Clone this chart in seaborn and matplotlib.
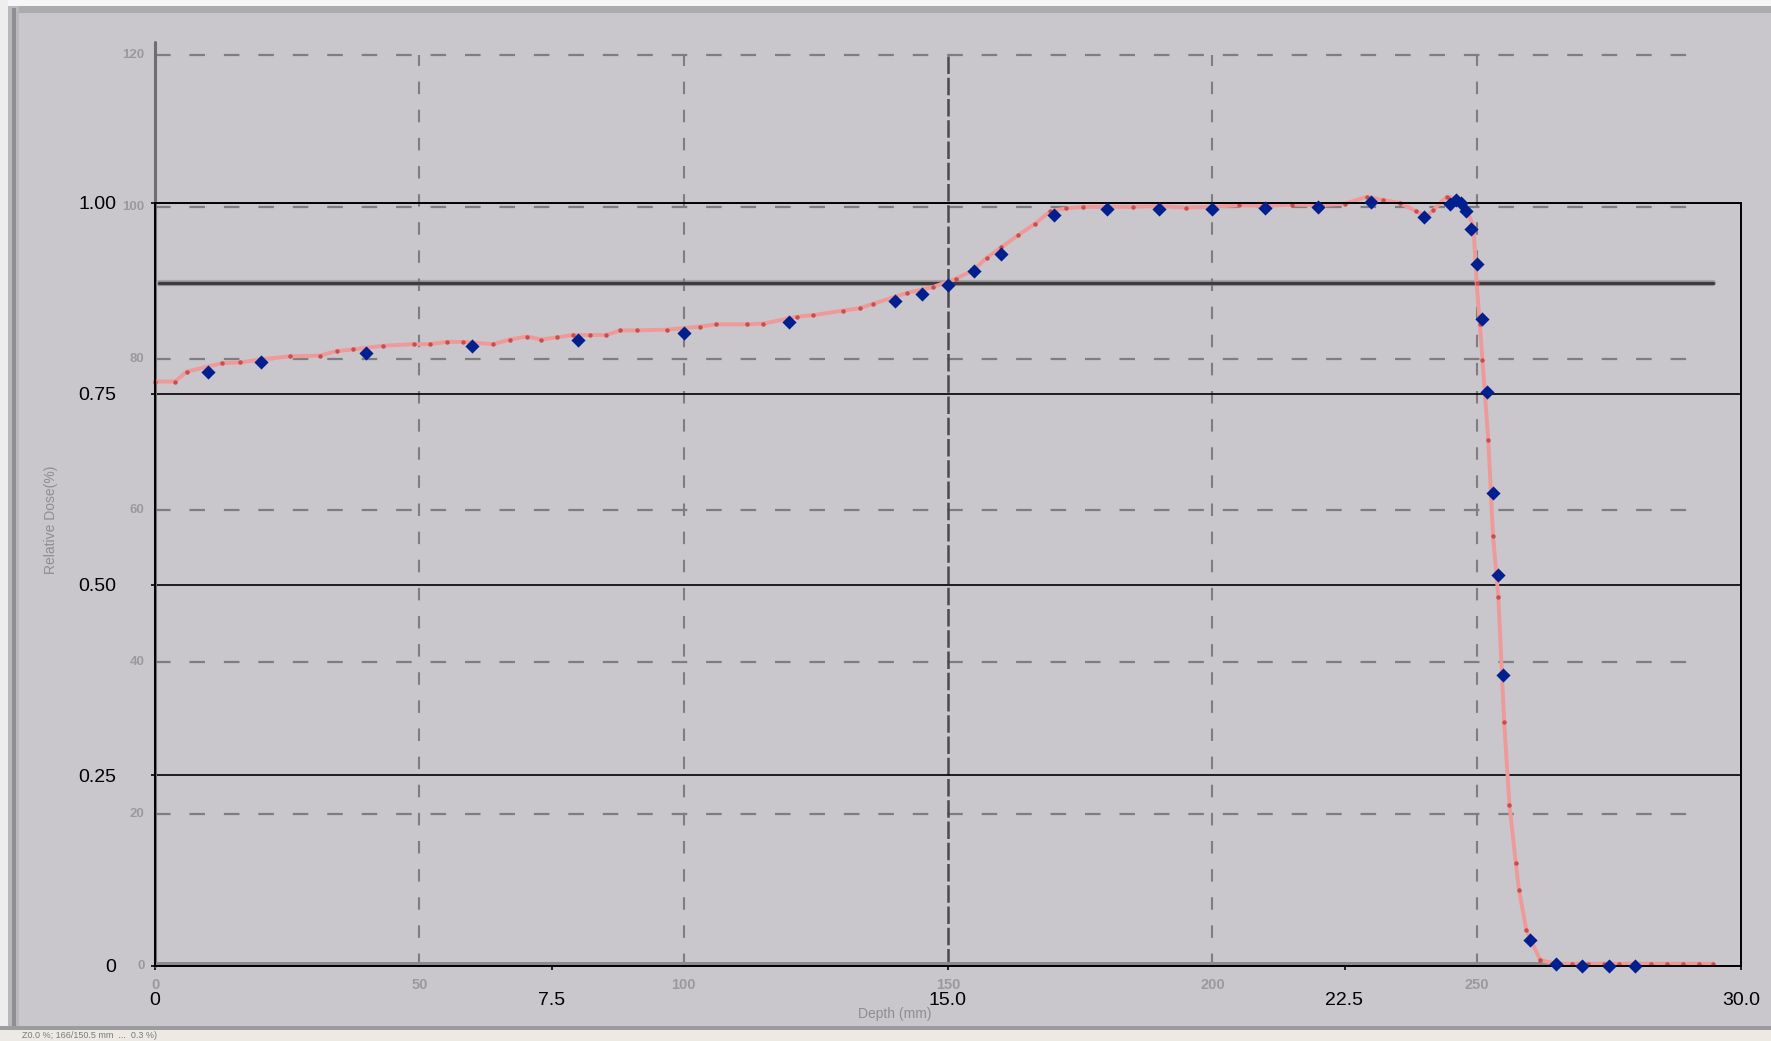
import numpy as np
import pandas as pd
import seaborn as sns
import matplotlib.pyplot as plt
from matplotlib.patches import Rectangle

# -----------------------------
# Data (depth in cm, relative dose)
# -----------------------------

# measured points (blue diamonds)
point_depth = [1, 2, 4, 6, 8, 10, 12, 14, 14.5, 15, 15.5, 16, 17, 18, 19, 20, 21, 22, 23,
               24, 24.5, 24.6, 24.7, 24.8, 24.9, 25.0, 25.1, 25.2, 25.3, 25.4, 25.5,
               26, 26.5, 27, 27.5, 28]
point_dose = [0.779, 0.791, 0.804, 0.813, 0.821, 0.830, 0.844, 0.871, 0.881, 0.893, 0.911,
              0.933, 0.984, 0.992, 0.992, 0.992, 0.994, 0.995, 1.001, 0.982, 0.999, 1.004,
              1.000, 0.990, 0.966, 0.920, 0.848, 0.752, 0.620, 0.512, 0.381,
              0.034, 0.002, 0.0, 0.0, 0.0]

# scanned profile from the planning software (red curve)
scan_depth = [0.0, 0.38, 0.60, 1.26, 1.61, 1.99, 2.55, 3.12, 3.44, 3.75, 4.32, 4.89, 5.20,
              5.52, 5.83, 6.40, 6.71, 7.03, 7.31, 7.60, 7.91, 8.23, 8.54, 8.80, 9.11, 9.68,
              10.31, 10.62, 11.19, 11.51, 12.14, 12.45, 13.02, 13.33, 13.59, 14.22, 14.72,
              15.16, 15.48, 15.73, 16.01, 16.33, 16.65, 16.93, 17.24, 17.56, 18.0, 18.5,
              19.0, 19.5, 20.0, 20.5, 21.0, 21.5, 22.0, 22.5, 22.92, 23.23, 23.55, 23.86,
              24.05, 24.18, 24.43, 24.62, 24.81, 24.94, 25.0, 25.06, 25.11, 25.22, 25.31,
              25.41, 25.52, 25.62, 25.74, 25.80, 25.94, 26.20, 26.5, 26.8, 27.1, 27.4,
              27.7, 28.0, 28.3, 28.6, 28.9, 29.2, 29.47]
scan_dose = [0.766, 0.766, 0.779, 0.790, 0.791, 0.795, 0.799, 0.800, 0.806, 0.808, 0.813,
             0.815, 0.815, 0.818, 0.818, 0.815, 0.821, 0.825, 0.821, 0.824, 0.827, 0.827,
             0.827, 0.833, 0.833, 0.834, 0.838, 0.841, 0.841, 0.842, 0.851, 0.853, 0.859,
             0.862, 0.868, 0.882, 0.890, 0.901, 0.912, 0.928, 0.942, 0.958, 0.973, 0.989,
             0.993, 0.995, 0.995, 0.995, 0.996, 0.994, 0.995, 0.997, 0.996, 0.998, 0.997,
             0.999, 1.008, 1.004, 1.000, 0.989, 0.982, 0.991, 1.008, 1.006, 0.991, 0.969,
             0.895, 0.842, 0.794, 0.689, 0.563, 0.484, 0.320, 0.211, 0.135, 0.100, 0.047,
             0.008, 0.003, 0.003, 0.003, 0.003, 0.003, 0.003, 0.003, 0.003, 0.003, 0.003,
             0.003]

x_ticks = [0, 7.5, 15.0, 22.5, 30.0]
x_tick_labels = ["0", "7.5", "15.0", "22.5", "30.0"]
y_ticks = [0, 0.25, 0.50, 0.75, 1.00]
y_tick_labels = ["0", "0.25", "0.50", "0.75", "1.00"]

# the screenshot's own axes (mm and %)
bg_x_ticks = [0, 50, 100, 150, 200, 250]
bg_y_ticks = [0, 20, 40, 60, 80, 100, 120]
bg_ref_level = 90
bg_x_label = "Depth (mm)"
bg_y_label = "Relative Dose(%)"
status_text = "Z0.0 %; 166/150.5 mm  ...  0.3 %)"

# -----------------------------
# Figure
# -----------------------------

sns.set_theme(style="white")
plt.rcParams["font.family"] = ["Liberation Sans", "DejaVu Sans"]

W, H = 1771, 1041
fig = plt.figure(figsize=(W / 100, H / 100), dpi=100, facecolor="#C9C7CC")


def fig_rect(x0, y0, x1, y1, color):
    # pixel box (top-left origin) -> figure rectangle
    fig.add_artist(Rectangle((x0 / W, 1 - y1 / H), (x1 - x0) / W, (y1 - y0) / H,
                             transform=fig.transFigure, color=color, lw=0, zorder=-5))


# window chrome of the screenshot
fig_rect(0, 0, W, 6, "#F6F6F6")
fig_rect(0, 6, W, 13, "#ABABAE")
fig_rect(0, 0, 8, H, "#EEEEEE")
fig_rect(8, 6, 19, 1029, "#B9B8BC")
fig_rect(12, 8, 16, 1029, "#8F8E92")
fig_rect(0, 1026, W, 1030, "#9C9C9E")
fig_rect(0, 1030, W, H, "#ECEAE3")
fig.text(22 / W, 1 - 1035.5 / H, status_text, color="#7A7A7A", fontsize=6.5,
         va="center", ha="left")

ax = fig.add_axes([155 / W, 75 / H, 1586 / W, 763 / H])
ax.set_facecolor("none")

pct = 0.995 / 100  # screenshot percent -> relative dose
bg_color = "#7E7E80"

# screenshot dashed grid
for lv in bg_y_ticks[1:]:
    ax.plot([0, 29.27], [lv * pct] * 2, color=bg_color, lw=1.6,
            ls=(0, (7, 8.5)), clip_on=False, zorder=0.5)
for mm in bg_x_ticks[1:]:
    dark = mm == 150
    ax.plot([mm / 10] * 2, [0, bg_y_ticks[-1] * pct], clip_on=False, zorder=0.5,
            color="#4A4A4C" if dark else bg_color, lw=1.8 if dark else 1.5,
            ls=(0, (7, 1.5)) if dark else (0, (6, 7.5)))
# screenshot axes lines
ax.plot([0, 0], [0, 1.211], color="#6E6E70", lw=2.2, clip_on=False, zorder=0.6)
ax.plot([0, 29.3], [0.004, 0.004], color="#8C8C8E", lw=2.2, clip_on=False, zorder=0.6)
# 90 % reference line
ax.plot([0.08, 29.47], [bg_ref_level * pct] * 2, color="#8A8A8C", lw=4.5,
        alpha=0.6, solid_capstyle="round", clip_on=False, zorder=0.7)
ax.plot([0.08, 29.47], [bg_ref_level * pct] * 2, color="#3C3C3E", lw=2.4,
        solid_capstyle="round", clip_on=False, zorder=0.8)

# screenshot tick labels (faint)
for lv in bg_y_ticks:
    ax.text(-0.2, lv * pct, str(lv), ha="right", va="center", fontsize=9.5,
            color="#9A9A9C", fontweight="bold", clip_on=False)
for mm in bg_x_ticks:
    ax.text(mm / 10, -0.016, str(mm), ha="center", va="top", fontsize=10.5,
            color="#9A9A9C", fontweight="bold", clip_on=False)
ax.text(14.0, -0.063, bg_x_label, ha="center", va="center", fontsize=10,
        color="#8E8E90", clip_on=False)
ax.text(-1.97, 0.585, bg_y_label, ha="center", va="center", fontsize=10,
        rotation=90, color="#8E8E90", clip_on=False)

# scanned profile
sns.lineplot(x=scan_depth, y=scan_dose, ax=ax, color="#EE9A9A", lw=2.8,
             marker="o", markersize=3.2, markerfacecolor="#CC4C4C",
             markeredgewidth=0, estimator=None, sort=False, zorder=2, clip_on=False)

# measured points
sns.scatterplot(x=point_depth, y=point_dose, ax=ax, marker="D", s=52,
                color="#00208F", linewidth=0, zorder=4, clip_on=False)

# -----------------------------
# Overlay axes
# -----------------------------

ax.set_xlim(0, 30)
ax.set_ylim(0, 1)
ax.set_xticks(x_ticks, x_tick_labels)
ax.set_yticks(y_ticks, y_tick_labels)
ax.tick_params(axis="x", bottom=True, direction="out", length=3, width=1.2,
               pad=15.5, labelsize=14, colors="black")
ax.tick_params(axis="y", left=True, direction="out", length=3, width=1.2,
               pad=25, labelsize=14, colors="black")
ax.grid(axis="y", color="black", lw=1.2, ls="-")
ax.grid(axis="x", visible=False)
for s in ax.spines.values():
    s.set_visible(True)
    s.set_color("black")
    s.set_linewidth(1.4)
ax.set_xlabel("")
ax.set_ylabel("")

fig.savefig("out.png", dpi=100, facecolor=fig.get_facecolor())
